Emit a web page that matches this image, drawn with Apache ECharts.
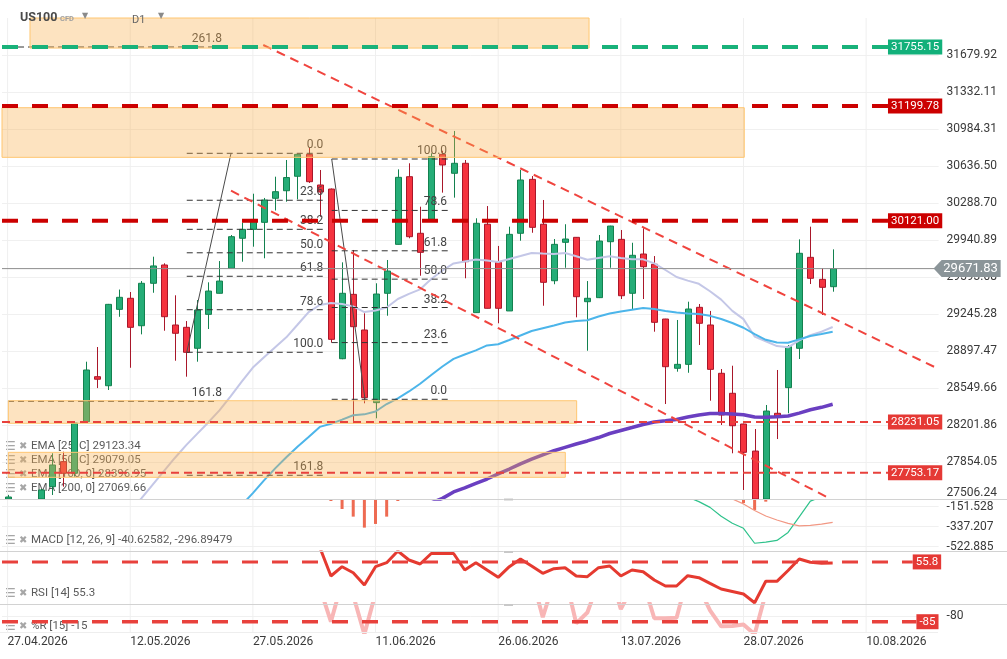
<!DOCTYPE html>
<html>
<head>
<meta charset="utf-8">
<title>US100 D1</title>
<script src="https://cdn.jsdelivr.net/npm/echarts@6/dist/echarts.min.js"></script>
<style>
  html, body { margin: 0; padding: 0; background: #fff; }
  #main { width: 1007px; height: 659px; }
</style>
</head>
<body>
<div id="main"></div>
<script>
// ---- data ----
const opens = [27380,27480,27400,27450,27622,27857,27748,28233,28656,28571,
  29289,29393,29135,29534,29706,29142,29120,28923,29242,29440,
  29675,29957,30041,30107,30333,30404,30540,30746,30458,30420,
  28825,29430,29095,28412,29440,29900,30536,30004,30135,30746,
  30568,30662,29258,30089,29731,29274,30004,30511,30089,29558,
  29919,29966,29361,29399,29925,29947,29440,29809,29713,29198,
  28735,28772,29308,29142,28688,28500,28211,27957,27480,28312,
  28553,28923,29778,29571,29502];
const closes = [27525,27400,27470,27591,27826,27748,28220,28719,28632,29336,
  29402,29120,29534,29697,29220,29064,28885,29283,29461,29555,
  29972,30041,30134,30317,30395,30528,30746,30489,30392,29007,
  29440,29126,28459,29433,29649,30530,29972,29825,30724,30646,
  30662,29737,30098,29299,29299,29994,30505,30060,29543,29900,
  29950,29408,29393,29931,30072,29417,29797,29690,29167,28750,
  28772,29292,29158,28725,28296,28195,27945,27470,28333,28286,
  28938,29816,29581,29496,29671.83];
const lows = [27300,27330,27350,27420,27544,27622,27716,28225,28549,28531,
  29219,28740,29054,29445,29088,28806,28656,28797,29104,29440,
  29675,29737,29878,29769,30218,30301,30323,30477,30160,28976,
  28820,28218,28406,28265,29229,29900,29957,29605,30113,30386,
  30339,29581,29258,29299,29158,29274,29934,30009,29323,29525,
  29680,29214,28900,29395,29680,29386,29289,29386,29079,28399,
  28703,28693,28954,28430,28202,27936,27591,27380,27400,28070,
  28312,28822,29527,29236,29455];
const highs = [27545,27495,27490,27600,27936,27951,28233,28797,28935,29340,
  29475,29452,29555,29784,29722,29421,29179,29377,29543,29743,
  29988,30104,30376,30336,30536,30693,30750,30806,30599,30425,
  29731,29847,29252,29534,29753,30605,30662,30254,30756,30780,
  30966,30693,30145,30260,29885,30066,30599,30542,30317,29950,
  30089,29966,29555,29988,30075,30035,29915,30051,29790,29200,
  29189,29361,29339,29274,28728,28759,28215,28164,28390,28719,
  28954,29947,30066,29675,29853];

// EMA lines (first value index given separately)
const ema25Start = 11;
const ema25 = [27387,27513,27640,27766,27892,28010,28118,28226,28339,28471,28609,28742,28838,28932,
  29026,29144,29263,29330,29349,29339,29317,29263,29278,29306,29386,29435,29477,29574,29654,
  29721,29739,29757,29748,29734,29762,29790,29819,29813,29809,29819,29788,29755,29772,29788,
  29772,29759,29759,29721,29659,29593,29559,29529,29459,29380,29275,29197,29033,28989,28944,
  28932,28997,29047,29079,29123.34];
const ema50Start = 21;
const ema50 = [27450,27561,27681,27794,27898,27998,28089,28184,28213,28252,28294,28302,28329,
  28399,28453,28517,28590,28672,28752,28823,28865,28903,28950,28961,29001,29043,29085,29112,
  29137,29165,29180,29187,29222,29250,29269,29286,29302,29292,29274,29260,29250,29245,29228,
  29198,29161,29116,29057,29003,28977,28975,29007,29039,29057,29079.05];
const ema100Start = 38;
const ema100 = [27470,27512,27573,27610,27652,27694,27743,27788,27837,27880,27920,27960,27992,
  28023,28052,28084,28122,28150,28178,28207,28230,28241,28254,28277,28296,28310,28310,28305,
  28298,28277,28274,28279,28286,28314,28345,28368,28396.95];

// MACD
const macdStart = 60;
const macdLine = [-30,-62,-105,-158,-241,-306,-352,-491,-480,-465,-391,-247,-100,-60,-40.63];
const signalStart = 63;
const signalLine = [-20,-50,-80,-126,-187,-238,-275,-307,-329,-326,-314,-296.89];
const macdHist = [[29,-99],[30,-173],[31,-244],[32,-346],[33,-312],[34,-244],[35,-99],
  [66,-118],[67,-182],[68,-105]];

// RSI and %R
const rsiStart = 28;
const rsi = [62,49.85,53.78,51.24,46.04,53.78,55.47,60.4,56.62,54.92,59.37,59.37,59.37,52.38,
  55.47,52.38,49.3,53.78,57.04,54.08,50.99,52.93,53.36,49.85,49.55,53.36,54.08,49.85,52.38,
  51.67,48.15,45.61,45.61,49.97,49.13,46.72,44.35,43.29,42.23,38.55,47.6,47.6,52.17,57.04,
  55.64,55.22,55.3];
const wprStart = 28;
const wpr = [-55,-85,-50,-62,-96,-60,-30,-10,-25,-35,-15,-20,-12,-40,-30,-45,-55,-35,-20,-45,
  -81,-50,-45,-86.4,-76.9,-50,-40,-74,-55,-50,-82,-82,-81.5,-45,-55,-75,-89,-88.8,-87.5,-96,
  -60,-50,-30,-10,-20,-28,-15];

// axis ticks
const priceTicks = [27506.24,27854.05,28201.86,28549.66,28897.47,29245.28,29593.08,
  29940.89,30288.70,30636.50,30984.31,31332.11,31679.92];
const macdTicks = [-522.885,-337.207,-151.528];
const wprTicks = [-80];
const gridTicks = [0, 11, 22, 33, 44, 55, 66, 77];
const dateTicks = ['27.04.2026','12.05.2026','27.05.2026','11.06.2026','26.06.2026',
  '13.07.2026','28.07.2026','10.08.2026'];

// drawings (bar index, price)
const greenLevels = [31755.15];
const majorLevels = [31199.78, 30121.00];
const minorLevels = [28231.05, 27753.17];
const currentPrice = [29671.83];
const rsiLevel = [55.8];
const wprLevel = [-85];
const zoneBoxes = [[2.01, 52.15, 32030, 31745], [-1, 66.07, 31184.5, 30718],
  [0.07, 51.04, 28430, 28218], [0.07, 50.02, 27945, 27710]];
const trendLines = [[22.93, 31773.9, 83.38, 28734.9], [20.04, 30404.3, 73.61, 27518]];
const fibRatios = [0, 23.6, 38.2, 50, 61.8, 78.6, 100, 161.8];
const fibRatiosB = [0, 23.6, 38.2, 50, 61.8, 78.6, 100];
const fibA = [16.07, 28.32, 30755.9, 28885.3];   // x from, x to, price at 0, price at 100
const fibB = [29.07, 39.62, 28443.5, 30702.3];
const fibAnchors = [[16.07, 28885.3, 20.04, 30755.9], [29.07, 30702.3, 32.06, 28443.5]];
const fibOldRatios = [161.8, 261.8];
const fibOldPrices = [28424.6, 31755];
const legendTexts = ['EMA [25, C] 29123.34', 'EMA [50, C] 29079.05', 'EMA [100, 0] 28396.95',
  'EMA [200, 0] 27069.66', 'MACD [12, 26, 9] -40.62582, -296.89479', 'RSI [14] 55.3', '%R [15] -15'];

// ---- chart ----
const N = 84;
const FONT = 'Roboto, "Noto Sans", sans-serif';
const categories = [];
(function () {
  const d = new Date(Date.UTC(2026, 3, 27));
  while (categories.length < N) {
    const wd = d.getUTCDay();
    if (wd !== 0 && wd !== 6) {
      categories.push(('0' + d.getUTCDate()).slice(-2) + '.' + ('0' + (d.getUTCMonth() + 1)).slice(-2) + '.' + d.getUTCFullYear());
    }
    d.setUTCDate(d.getUTCDate() + 1);
  }
})();

const pad = (start, arr) => new Array(start).fill(null).concat(arr);
const candleData = opens.map((o, i) => [i, o, closes[i], lows[i], highs[i]]);

function fibSegs(f, ratios) {
  return ratios.map(r => {
    const p = f[2] + (f[3] - f[2]) * r / 100;
    return [f[0], p, f[1], p, r];
  });
}
const fibLines = fibSegs(fibA, fibRatios).concat(fibSegs(fibB, fibRatiosB))
  .concat(fibOldPrices.map((p, i) => [0.04, p, 18.78, p, fibOldRatios[i]]));
const fibLabels = fibSegs(fibA, fibRatios).map(s => [fibA[1], s[1], s[4]])
  .concat(fibSegs(fibB, fibRatiosB).map(s => [39.42, s[1], s[4]]))
  .concat(fibOldPrices.map((p, i) => [19.23, p, fibOldRatios[i]]));

function catAxis(gi, labels) {
  return {
    type: 'category', gridIndex: gi, data: categories, boundaryGap: true,
    axisLine: { show: false }, axisTick: { show: false }, splitLine: { show: false },
    axisLabel: labels ? {
      interval: (idx) => gridTicks.indexOf(idx) >= 0,
      formatter: (v, idx) => dateTicks[gridTicks.indexOf(idx)] || '',
      align: 'left', color: '#3a3a3a', fontSize: 12, fontFamily: FONT, margin: 4
    } : { show: false }
  };
}
function overlayAxis(gi) {
  return { type: 'value', gridIndex: gi, min: -0.5, max: N - 0.5, show: false };
}

function segRender(stroke, width, dash) {
  return function (params, api) {
    const a = api.coord([api.value(0), api.value(1)]);
    const b = api.coord([api.value(2), api.value(3)]);
    return { type: 'line', shape: { x1: a[0], y1: a[1], x2: b[0], y2: b[1] },
      style: { stroke: stroke, lineWidth: width, lineDash: dash } };
  };
}
function levelRender(stroke, width, dash, box, fmt) {
  return function (params, api) {
    const a = api.coord([api.value(0), api.value(2)]);
    const b = api.coord([api.value(1), api.value(2)]);
    return { type: 'group', children: [
      { type: 'line', shape: { x1: a[0], y1: a[1], x2: b[0], y2: b[1] },
        style: { stroke: stroke, lineWidth: width, lineDash: dash } },
      { type: 'text', x: b[0], y: b[1],
        style: { text: fmt(api.value(2)), fill: '#fff', font: '11.5px ' + FONT, backgroundColor: box,
          padding: [2, 3, 1, 3], align: 'left', verticalAlign: 'middle' } }
    ] };
  };
}
function vGridRender(params, api) {
  const x = api.coord([api.value(0), api.value(1)])[0];
  const cs = params.coordSys;
  return { type: 'line', shape: { x1: x, y1: cs.y, x2: x, y2: cs.y + cs.height },
    style: { stroke: '#efefef', lineWidth: 1 } };
}
function vGrid(gi, yMid) {
  return { type: 'custom', xAxisIndex: gi, yAxisIndex: gi, z: 1, silent: true,
    data: gridTicks.map(t => [t, yMid]), encode: { x: 0, y: 1 }, renderItem: vGridRender };
}
function emaLine(data, color, width) {
  return { type: 'line', xAxisIndex: 0, yAxisIndex: 0, data: data, symbol: 'none', silent: true,
    z: 4, lineStyle: { color: color, width: width } };
}

// candles drawn through the axes and cut at the pane edges
function candleRender(params, api) {
  const i = api.value(0), o = api.value(1), c = api.value(2), l = api.value(3), h = api.value(4);
  const cs = params.coordSys;
  const top = cs.y, bot = cs.y + cs.height;
  const xc = Math.round(api.coord([i, o])[0]);
  const yo = api.coord([i, o])[1], yc = api.coord([i, c])[1];
  const yl = api.coord([i, l])[1], yh = api.coord([i, h])[1];
  const up = c >= o;
  const fill = up ? '#25ad77' : '#f5333f';
  const edge = up ? '#13814f' : '#a9172a';
  const kids = [];
  if (yh < bot && yl > top) {
    kids.push({ type: 'line', shape: { x1: xc + 0.5, y1: Math.max(top, yh), x2: xc + 0.5, y2: Math.min(bot, yl) },
      style: { stroke: edge, lineWidth: 1 } });
  }
  const y0 = Math.min(yo, yc), y1 = Math.max(yo, yc, y0 + 1);
  const r = echarts.graphic.clipRectByRect({ x: xc - 2.5, y: y0, width: 6, height: y1 - y0 }, cs);
  if (r) {
    kids.push({ type: 'rect', shape: r, style: { fill: fill, stroke: edge, lineWidth: 1 } });
  }
  return { type: 'group', children: kids };
}

const chart = echarts.init(document.getElementById('main'));
const option = {
  animation: false,
  backgroundColor: '#ffffff',
  textStyle: { fontFamily: FONT },
  grid: [
    { left: 2, right: 68.4, top: 18, height: 481 },
    { left: 2, right: 68.4, top: 499.5, height: 51.5 },
    { left: 2, right: 68.4, top: 552, height: 52 },
    { left: 2, right: 68.4, top: 604, height: 28 }
  ],
  xAxis: [catAxis(0, false), catAxis(1, false), catAxis(2, false), catAxis(3, true),
    overlayAxis(0), overlayAxis(2), overlayAxis(3)],
  yAxis: [
    { type: 'value', gridIndex: 0, position: 'right', min: 27506.24, max: 32027.73,
      axisLine: { show: false }, axisTick: { show: false, customValues: priceTicks },
      axisLabel: { customValues: priceTicks, formatter: v => v.toFixed(2), color: '#3a3a3a',
        fontSize: 12, fontFamily: FONT, margin: 8, verticalAlignMinLabel: 'bottom' },
      splitLine: { show: true, lineStyle: { color: '#f0f0f0' } } },
    { type: 'value', gridIndex: 1, position: 'right', min: -563, max: -85,
      axisLine: { show: false }, axisTick: { show: false, customValues: macdTicks },
      axisLabel: { customValues: macdTicks, formatter: v => v.toFixed(3), color: '#3a3a3a',
        fontSize: 12, fontFamily: FONT, margin: 8 },
      splitLine: { show: true, lineStyle: { color: '#f0f0f0' } } },
    { type: 'value', gridIndex: 2, position: 'right', min: 38, max: 60,
      axisLine: { show: false }, axisTick: { show: false }, axisLabel: { show: false },
      splitLine: { show: false } },
    { type: 'value', gridIndex: 3, position: 'right', min: -94, max: -69.5,
      axisLine: { show: false }, axisTick: { show: false, customValues: wprTicks },
      axisLabel: { customValues: wprTicks, formatter: v => String(v), color: '#3a3a3a',
        fontSize: 12, fontFamily: FONT, margin: 8 },
      splitLine: { show: true, lineStyle: { color: '#f0f0f0' } } }
  ],
  series: [
    vGrid(0, 29000), vGrid(1, -300), vGrid(2, 50), vGrid(3, -80),
    { type: 'custom', xAxisIndex: 0, yAxisIndex: 0, data: candleData, silent: true, z: 3,
      encode: { x: 0, y: [1, 2, 3, 4] }, renderItem: candleRender },
    emaLine(pad(ema25Start, ema25), '#c4c7e7', 2),
    emaLine(pad(ema50Start, ema50), '#4cb5ea', 2),
    emaLine(pad(ema100Start, ema100), '#6a3fc1', 3.5),
    { type: 'custom', xAxisIndex: 4, yAxisIndex: 0, z: 5, silent: true, data: fibLines,
      encode: { x: [0, 2], y: [1, 3] }, renderItem: segRender('#333333', 1, [6, 4]) },
    { type: 'custom', xAxisIndex: 4, yAxisIndex: 0, z: 5, silent: true, data: fibAnchors,
      encode: { x: [0, 2], y: [1, 3] }, renderItem: segRender('#4a4a4a', 1, null) },
    { type: 'custom', xAxisIndex: 4, yAxisIndex: 0, z: 5, silent: true, data: fibLabels,
      encode: { x: 0, y: 1 },
      renderItem: function (params, api) {
        const p = api.coord([api.value(0), api.value(1)]);
        return { type: 'text', x: p[0], y: p[1] - 2,
          style: { text: api.value(2).toFixed(1), fill: '#444', font: '12px ' + FONT,
            align: 'right', verticalAlign: 'bottom' } };
      } },
    { type: 'custom', xAxisIndex: 4, yAxisIndex: 0, z: 6, silent: true, data: trendLines,
      encode: { x: [0, 2], y: [1, 3] }, renderItem: segRender('#f0443e', 2, [9, 6]) },
    { type: 'custom', xAxisIndex: 4, yAxisIndex: 0, z: 10, silent: true, data: zoneBoxes,
      encode: { x: [0, 1], y: [2, 3] },
      renderItem: function (params, api) {
        const a = api.coord([api.value(0), api.value(2)]);
        const b = api.coord([api.value(1), api.value(3)]);
        const r = echarts.graphic.clipRectByRect(
          { x: a[0], y: a[1], width: b[0] - a[0], height: b[1] - a[1] }, params.coordSys);
        return r && { type: 'rect', shape: r,
          style: { fill: 'rgba(250,175,75,0.35)', stroke: '#ffc670', lineWidth: 1 } };
      } },
    { type: 'custom', xAxisIndex: 4, yAxisIndex: 0, z: 12, silent: true,
      data: greenLevels.map(p => [-0.5, 78.96, p]), encode: { x: [0, 1], y: 2 },
      renderItem: levelRender('#19b27a', 4, [16, 14], '#12b07a', v => v.toFixed(2)) },
    { type: 'custom', xAxisIndex: 4, yAxisIndex: 0, z: 12, silent: true,
      data: majorLevels.map(p => [-0.5, 78.96, p]), encode: { x: [0, 1], y: 2 },
      renderItem: levelRender('#cc0000', 4, [16, 14], '#cc0000', v => v.toFixed(2)) },
    { type: 'custom', xAxisIndex: 4, yAxisIndex: 0, z: 12, silent: true,
      data: minorLevels.map(p => [-0.5, 78.96, p]), encode: { x: [0, 1], y: 2 },
      renderItem: levelRender('#e8413c', 2, [8, 5], '#e53935', v => v.toFixed(2)) },
    { type: 'custom', xAxisIndex: 4, yAxisIndex: 0, z: 20, silent: true,
      data: currentPrice.map(p => [p]), encode: { y: 0 },
      renderItem: function (params, api) {
        const price = api.value(0);
        const a = api.coord([-0.5, price]);
        const b = api.coord([N - 0.5, price]);
        const y = b[1], xr = b[0];
        return { type: 'group', children: [
          { type: 'line', shape: { x1: a[0], y1: y, x2: xr - 4, y2: y },
            style: { stroke: '#8e8e8e', lineWidth: 1 } },
          { type: 'polygon', shape: { points: [[xr - 5, y], [xr + 3, y - 8.5], [xr + 62, y - 8.5],
            [xr + 62, y + 8.5], [xr + 3, y + 8.5]] }, style: { fill: '#8b9599' } },
          { type: 'text', x: xr + 32, y: y, style: { text: price.toFixed(2), fill: '#fff',
            font: '13px ' + FONT, align: 'center', verticalAlign: 'middle' } }
        ] };
      } },
    // MACD pane
    { type: 'custom', xAxisIndex: 1, yAxisIndex: 1, z: 3, silent: true, data: macdHist,
      encode: { x: 0, y: 1 },
      renderItem: function (params, api) {
        const a = api.coord([api.value(0), 0]);
        const b = api.coord([api.value(0), api.value(1)]);
        const r = echarts.graphic.clipRectByRect(
          { x: a[0] - 1.5, y: a[1], width: 3, height: b[1] - a[1] }, params.coordSys);
        return r && { type: 'rect', shape: r, style: { fill: '#ee6b52' } };
      } },
    { type: 'line', xAxisIndex: 1, yAxisIndex: 1, data: pad(macdStart, macdLine), symbol: 'none',
      silent: true, z: 4, lineStyle: { color: '#2ec28b', width: 1.2 } },
    { type: 'line', xAxisIndex: 1, yAxisIndex: 1, data: pad(signalStart, signalLine), symbol: 'none',
      silent: true, z: 4, lineStyle: { color: '#f29884', width: 1.2 } },
    // RSI pane
    { type: 'line', xAxisIndex: 2, yAxisIndex: 2, data: pad(rsiStart, rsi), symbol: 'none',
      silent: true, z: 4, lineStyle: { color: '#e53a30', width: 3 } },
    { type: 'custom', xAxisIndex: 5, yAxisIndex: 2, z: 5, silent: true,
      data: rsiLevel.map(p => [-0.5, 81.18, p]), encode: { x: [0, 1], y: 2 },
      renderItem: levelRender('#e8413c', 3, [16, 14], '#e53935', v => String(v)) },
    // %R pane
    { type: 'line', xAxisIndex: 3, yAxisIndex: 3, data: pad(wprStart, wpr), symbol: 'none',
      silent: true, z: 4, lineStyle: { color: '#f8b6b6', width: 4 } },
    { type: 'custom', xAxisIndex: 6, yAxisIndex: 3, z: 5, silent: true,
      data: wprLevel.map(p => [-0.5, 81.51, p]), encode: { x: [0, 1], y: 2 },
      renderItem: levelRender('#e8413c', 3.5, [16, 14], '#e53935', v => String(v)) }
  ],
  graphic: { elements: [] }
};

// pane separators and header / legend decorations
const g = option.graphic.elements;
[499.5, 551.5, 604.5].forEach(y => g.push({ type: 'line', z: 15, silent: true,
  shape: { x1: 0, y1: y, x2: 1007, y2: y }, style: { stroke: '#d2d2d2', lineWidth: 1 } }));
g.push({ type: 'line', z: 15, silent: true, shape: { x1: 0, y1: 632.5, x2: 938, y2: 632.5 },
  style: { stroke: '#eeeeee', lineWidth: 1 } });
[498.5, 551, 604].forEach(y => g.push({ type: 'rect', z: 16, silent: true,
  shape: { x: 504, y: y, width: 9, height: 2 }, style: { fill: '#c8c8c8' } }));

const legendY = [446.5, 460.5, 474.5, 488.5, 540.5, 593.5, 626.5];
legendTexts.forEach((t, i) => {
  const y = legendY[i];
  g.push({ type: 'text', z: 1, silent: true, x: 5, y: y,
    style: { text: '\u2630', fill: '#a6a6a6', font: '12px "DejaVu Sans"', verticalAlign: 'middle' } });
  g.push({ type: 'text', z: 1, silent: true, x: 19, y: y,
    style: { text: '\u2716', fill: '#a6a6a6', font: '10px "DejaVu Sans"', verticalAlign: 'middle' } });
  g.push({ type: 'text', z: 1, silent: true, x: 31, y: y,
    style: { text: t, fill: '#5a5a5a', font: '11.5px ' + FONT, verticalAlign: 'middle' } });
});

g.push({ type: 'text', z: 50, silent: true, x: 20, y: 18,
  style: { text: 'US100', fill: '#4a4a4a', font: 'bold 12.5px ' + FONT, verticalAlign: 'middle' } });
g.push({ type: 'text', z: 50, silent: true, x: 60, y: 19,
  style: { text: 'CFD', fill: '#a0a0a0', font: 'bold 7.5px ' + FONT, verticalAlign: 'middle' } });
g.push({ type: 'text', z: 50, silent: true, x: 82, y: 16,
  style: { text: '\u25BC', fill: '#8a8a8a', font: '8px "DejaVu Sans"', verticalAlign: 'middle' } });
g.push({ type: 'text', z: 50, silent: true, x: 132, y: 20,
  style: { text: 'D1', fill: '#666', font: '11px ' + FONT, verticalAlign: 'middle' } });
g.push({ type: 'text', z: 50, silent: true, x: 158, y: 16,
  style: { text: '\u25BC', fill: '#8a8a8a', font: '8px "DejaVu Sans"', verticalAlign: 'middle' } });

chart.setOption(option);
</script>
</body>
</html>
